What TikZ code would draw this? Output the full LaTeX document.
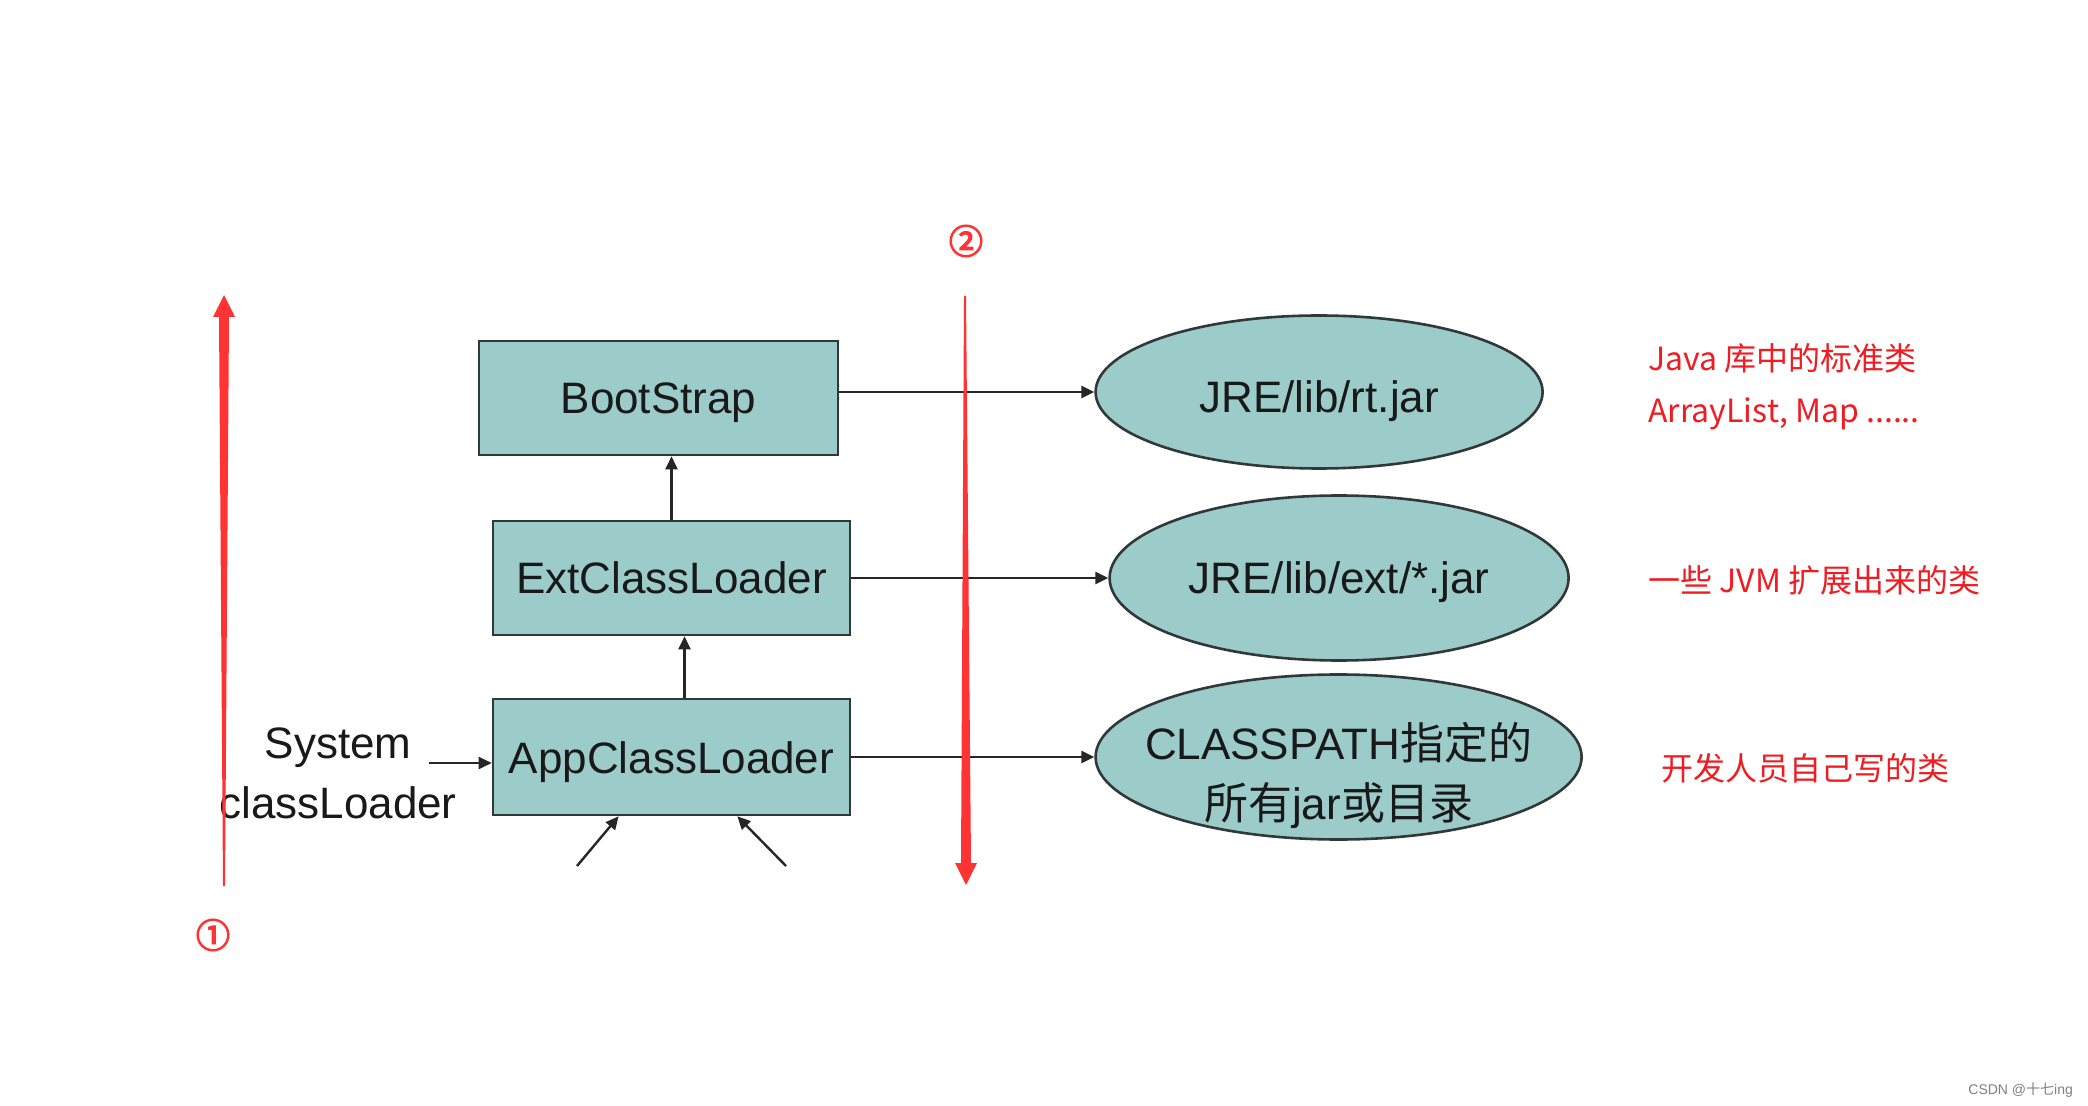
\documentclass[tikz,border=0pt]{standalone}
\usepackage{fontspec}
\setmainfont{Liberation Sans}
\newfontfamily\cjk{Noto Sans CJK SC}
\newfontfamily\numfont[FakeBold=4]{Noto Sans CJK SC}
\usepackage{xcolor}
\usepackage{tikz}
\usetikzlibrary{shapes,arrows.meta,positioning,calc}

\definecolor{boxfill}{RGB}{156,204,202}
\definecolor{boxline}{RGB}{50,55,55}
\definecolor{redline}{RGB}{255,51,51}
\definecolor{redtext}{RGB}{240,28,34}

\begin{document}
\begin{tikzpicture}[
  x=0.5pt, y=-0.5pt,
  loader/.style={rectangle, draw=boxline, line width=1.3pt, fill=boxfill, minimum width=178.5pt, minimum height=57pt, text height=16pt, text depth=0pt, font=\fontsize{22pt}{26pt}\selectfont, text=black!90},
  oval/.style={ellipse, draw=boxline, line width=1.3pt, fill=boxfill, inner sep=0pt, text height=16pt, text depth=0pt, font=\fontsize{22pt}{26pt}\selectfont, text=black!90},
  arrow/.style={-{Triangle[length=6.5pt,width=6pt]}, line width=1.2pt, draw=black!85},
  note/.style={inner sep=0pt, text=redtext, font=\cjk\fontsize{16pt}{26pt}\selectfont, anchor=west, align=left},
  circnum/.style={inner sep=0pt, text=redline, font=\numfont\fontsize{17pt}{17pt}\selectfont},
  node distance=30.7pt
]
  \fill[white] (0,0) rectangle (2088,1106);
  \useasboundingbox (0,0) rectangle (2088,1106);

  % loaders
  \node[loader, minimum width=179.5pt] (boot) at (658.5,398) {BootStrap};
  \node[loader, below=31.7pt of boot, xshift=6.5pt] (ext) {ExtClassLoader};
  \node[loader, below=of ext, minimum height=58pt] (app) {AppClassLoader};

  % jar locations
  \node[oval, right=127.5pt of boot, yshift=3pt, minimum width=223.5pt, minimum height=76.5pt, text height=21pt] (rt) {JRE/lib/rt.jar};
  \node[oval, right=128.5pt of ext, minimum width=229.5pt, minimum height=82.5pt] (extjar) {JRE/lib/ext/*.jar};
  \node[oval, right=121.5pt of app, minimum width=243pt, minimum height=82.5pt] (cp) {};
  \node[inner sep=0pt, align=center, text=black!90, font=\fontsize{22pt}{30pt}\selectfont] (cptext) at ([yshift=-9pt]cp) {CLASSPATH{\cjk 指定的}\\{\cjk 所有}jar{\cjk 或目录}};

  \node[inner sep=0pt, align=center, text=black!90, font=\fontsize{22pt}{30pt}\selectfont] (sys) at (338,773) {System\\classLoader};
  \coordinate (sysout) at (429,763);
  \coordinate (in1) at (577,866);
  \coordinate (in2) at (786,866);

  \draw[arrow] (ext.north) -- (ext.north |- boot.south);
  \draw[arrow] ([xshift=6.5pt]app.north) -- ([xshift=6.5pt]ext.south);
  \draw[arrow] (sysout) -- (sysout -| app.west);
  \draw[arrow] (in1) -- ($(app.south west)!0.353!(app.south east)$);
  \draw[arrow] (in2) -- ($(app.south west)!0.683!(app.south east)$);

  \draw[arrow] (boot.east |- rt) -- (rt);
  \draw[arrow] (ext) -- (extjar);
  \draw[arrow] (app) -- (cp);

  % red order arrows
  \coordinate (up1) at (224,886);
  \coordinate (up2) at (224,295);
  \coordinate (dn1) at (965,296);
  \coordinate (dn2) at (966,885);
  \fill[redline] ($(up1)+(-1,0)$) -- ($(up2)+(-5,22)$) -- ($(up2)+(-11,22)$) -- (up2)
    -- ($(up2)+(11,22)$) -- ($(up2)+(5,22)$) -- ($(up1)+(1,0)$) -- cycle;
  \fill[redline] ($(dn1)+(-1,0)$) -- ($(dn2)+(-5,-22)$) -- ($(dn2)+(-11,-22)$) -- (dn2)
    -- ($(dn2)+(11,-22)$) -- ($(dn2)+(5,-22)$) -- ($(dn1)+(1,0)$) -- cycle;
  \node[circnum] (num1) at (213,935) {①};
  \node[circnum] (num2) at (966,241) {②};

  % notes
  \node[note] (lib) at (1648,387) {Java 库中的标准类\\ArrayList, Map ......};
  \node[note] (jvm) at (1648,580) {一些 JVM 扩展出来的类};
  \node[note] (dev) at (1661,768) {开发人员自己写的类};

  \node[inner sep=0pt, anchor=west, text=black!50, font=\fontsize{7pt}{8pt}\selectfont] (mark) at (1968,1090) {CSDN @{\cjk 十七}ing};
\end{tikzpicture}
\end{document}
